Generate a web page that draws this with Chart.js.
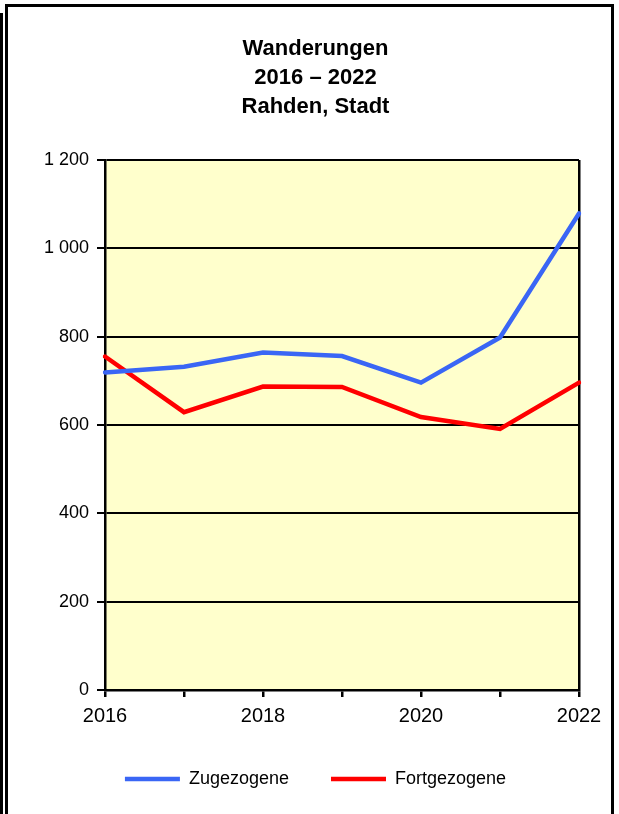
<!DOCTYPE html>
<html>
<head>
<meta charset="utf-8">
<script src="https://cdn.jsdelivr.net/npm/chart.js@4"></script>
<style>
  body { margin: 0; background: #fff; overflow: hidden; }
  #wrap { position: relative; width: 619px; height: 814px; }
  #frame { position: absolute; left: 5px; top: 4px; width: 609px; height: 830px; border: 3px solid #000; box-sizing: border-box; pointer-events: none; }
  #edge { position: absolute; left: 0; top: 13px; width: 3px; height: 810px; background: #000; }
</style>
</head>
<body>
<div id="wrap">
  <canvas id="myChart" width="619" height="814"></canvas>
  <div id="frame"></div>
  <div id="edge"></div>
</div>
<script>
const ctx = document.getElementById('myChart');

const years = ['2016', '2017', '2018', '2019', '2020', '2021', '2022'];
const zugezogene = [719, 732, 764, 756, 696, 798, 1079];
const fortgezogene = [755, 629, 687, 686, 618, 591, 696];
const shownYears = ['2016', '2018', '2020', '2022'];
const yMin = 0;
const yMax = 1200;
const yStep = 200;

Chart.defaults.font.family = '"Liberation Sans", Arial, sans-serif';
Chart.defaults.color = '#000';

// yellow plot area
const plotBg = {
  id: 'plotBg',
  beforeDraw(chart) {
    const a = chart.chartArea;
    const c = chart.ctx;
    c.save();
    c.fillStyle = '#FFFFCC';
    c.fillRect(a.left, a.top, a.right - a.left, a.bottom - a.top);
    c.restore();
  }
};

new Chart(ctx, {
  type: 'line',
  data: {
    labels: years,
    datasets: [{
      label: 'Zugezogene',
      data: zugezogene,
      borderColor: '#3A66F5',
      backgroundColor: '#3A66F5',
      borderWidth: 4.5,
      borderCapStyle: 'round',
      pointRadius: 0,
      tension: 0
    }, {
      label: 'Fortgezogene',
      data: fortgezogene,
      borderColor: '#FF0000',
      backgroundColor: '#FF0000',
      borderWidth: 4.5,
      borderCapStyle: 'round',
      pointRadius: 0,
      tension: 0
    }]
  },
  options: {
    responsive: false,
    animation: false,
    layout: {
      padding: { top: 34, left: 40, right: 28, bottom: 16 }
    },
    plugins: {
      title: {
        display: true,
        text: ['Wanderungen', '2016 \u2013 2022', 'Rahden, Stadt'],
        font: { size: 22, weight: 'bold', lineHeight: 1.318 },
        color: '#000',
        padding: { top: 0, bottom: 39 }
      },
      legend: {
        position: 'bottom',
        labels: {
          usePointStyle: true,
          pointStyle: 'line',
          pointStyleWidth: 55,
          padding: 42,
          font: { size: 18 },
          color: '#000'
        }
      },
      tooltip: { enabled: false }
    },
    scales: {
      x: {
        afterFit: (axis) => { axis.height = 38; },
        border: { display: true, color: '#000', width: 2.5 },
        grid: {
          color: (c) => c.index === years.length - 1 ? '#000' : 'rgba(0,0,0,0)',
          lineWidth: 2.5,
          tickColor: '#000',
          tickLength: 7
        },
        ticks: {
          autoSkip: false,
          maxRotation: 0,
          padding: 7,
          font: { size: 20 },
          callback: function(value, index) {
            const lab = years[index];
            return shownYears.includes(lab) ? lab : '';
          }
        }
      },
      y: {
        min: yMin,
        max: yMax,
        afterFit: (axis) => { axis.width = 65; },
        border: { display: true, color: '#000', width: 2.5 },
        grid: {
          color: '#000',
          lineWidth: 2,
          tickColor: '#000',
          tickLength: 8
        },
        ticks: {
          stepSize: yStep,
          padding: 8,
          font: { size: 18 },
          callback: (v) => String(v).replace(/\B(?=(\d{3})+(?!\d))/g, ' ')
        }
      },
      // empty right-hand strip, keeps title and legend centred like the original
      spacer: {
        type: 'linear',
        position: 'right',
        afterFit: (axis) => { axis.width = 12; },
        grid: { display: false },
        border: { display: false },
        ticks: { display: false }
      }
    }
  },
  plugins: [plotBg]
});
</script>
</body>
</html>
